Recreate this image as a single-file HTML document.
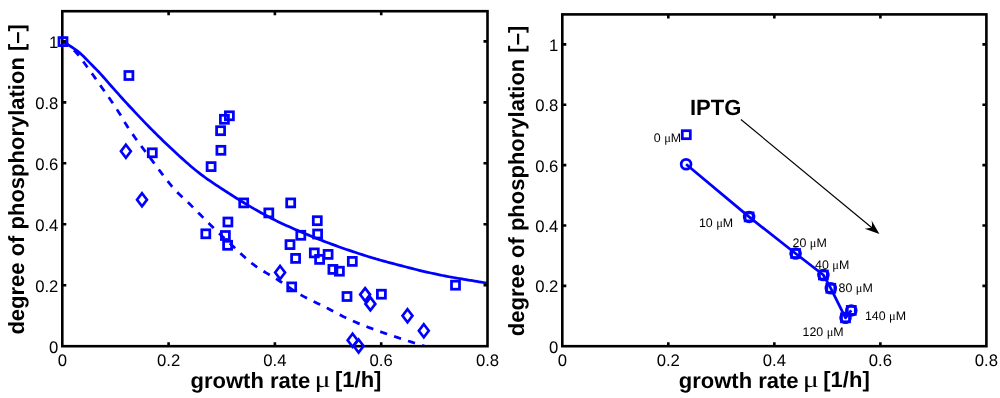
<!DOCTYPE html>
<html><head><meta charset="utf-8"><title>chart</title>
<style>html,body{margin:0;padding:0;background:#fff;width:1000px;height:398px;overflow:hidden}svg{will-change:transform;transform:translateZ(0);text-rendering:geometricPrecision}</style></head>
<body>
<svg width="1000" height="398" viewBox="0 0 1000 398" style="position:absolute;left:0;top:0;font-family:'Liberation Sans',sans-serif">
<clipPath id="cl"><rect x="62.3" y="11.2" width="425.2" height="335.0"/></clipPath>
<g clip-path="url(#cl)"><path d="M62.30,41.30 L64.44,42.52 L66.57,43.80 L68.71,45.13 L70.85,46.52 L72.98,47.94 L75.12,49.41 L77.26,50.96 L79.39,52.62 L81.53,54.45 L83.67,56.50 L85.80,58.68 L87.94,60.92 L90.08,63.13 L92.21,65.28 L94.35,67.43 L96.49,69.60 L98.62,71.82 L100.76,74.10 L102.90,76.47 L105.03,78.91 L107.17,81.38 L109.31,83.83 L111.44,86.24 L113.58,88.65 L115.72,91.06 L117.85,93.46 L119.99,95.84 L122.13,98.21 L124.26,100.56 L126.40,102.89 L128.54,105.20 L130.67,107.51 L132.81,109.81 L134.95,112.10 L137.08,114.37 L139.22,116.64 L141.36,118.88 L143.49,121.11 L145.63,123.33 L147.77,125.52 L149.90,127.70 L152.04,129.85 L154.18,132.00 L156.31,134.13 L158.45,136.25 L160.59,138.35 L162.72,140.44 L164.86,142.51 L167.00,144.56 L169.13,146.59 L171.27,148.60 L173.41,150.59 L175.54,152.55 L177.68,154.50 L179.82,156.44 L181.95,158.37 L184.09,160.29 L186.23,162.19 L188.36,164.07 L190.50,165.92 L192.64,167.74 L194.77,169.52 L196.91,171.26 L199.05,172.95 L201.18,174.59 L203.32,176.19 L205.46,177.74 L207.59,179.26 L209.73,180.74 L211.87,182.20 L214.00,183.63 L216.14,185.05 L218.28,186.45 L220.41,187.84 L222.55,189.23 L224.69,190.61 L226.82,192.00 L228.96,193.38 L231.10,194.76 L233.23,196.12 L235.37,197.48 L237.51,198.82 L239.64,200.15 L241.78,201.47 L243.92,202.78 L246.05,204.07 L248.19,205.34 L250.33,206.59 L252.46,207.84 L254.60,209.07 L256.74,210.30 L258.87,211.51 L261.01,212.72 L263.15,213.91 L265.28,215.08 L267.42,216.23 L269.56,217.37 L271.69,218.48 L273.83,219.57 L275.97,220.63 L278.11,221.67 L280.24,222.69 L282.38,223.69 L284.52,224.68 L286.65,225.64 L288.79,226.60 L290.93,227.55 L293.06,228.48 L295.20,229.41 L297.34,230.33 L299.47,231.25 L301.61,232.16 L303.75,233.07 L305.88,233.97 L308.02,234.86 L310.16,235.74 L312.29,236.62 L314.43,237.49 L316.57,238.35 L318.70,239.20 L320.84,240.04 L322.98,240.87 L325.11,241.69 L327.25,242.50 L329.39,243.30 L331.52,244.10 L333.66,244.88 L335.80,245.66 L337.93,246.43 L340.07,247.19 L342.21,247.95 L344.34,248.69 L346.48,249.43 L348.62,250.16 L350.75,250.89 L352.89,251.60 L355.03,252.32 L357.16,253.03 L359.30,253.73 L361.44,254.42 L363.57,255.11 L365.71,255.79 L367.85,256.46 L369.98,257.12 L372.12,257.77 L374.26,258.40 L376.39,259.03 L378.53,259.64 L380.67,260.25 L382.80,260.84 L384.94,261.42 L387.08,262.00 L389.21,262.57 L391.35,263.14 L393.49,263.70 L395.62,264.25 L397.76,264.81 L399.90,265.36 L402.03,265.92 L404.17,266.48 L406.31,267.04 L408.44,267.59 L410.58,268.14 L412.72,268.69 L414.85,269.24 L416.99,269.77 L419.13,270.30 L421.26,270.82 L423.40,271.32 L425.54,271.82 L427.67,272.30 L429.81,272.78 L431.95,273.25 L434.08,273.71 L436.22,274.16 L438.36,274.61 L440.49,275.05 L442.63,275.48 L444.77,275.91 L446.90,276.33 L449.04,276.73 L451.18,277.13 L453.31,277.52 L455.45,277.90 L457.59,278.27 L459.72,278.63 L461.86,278.98 L464.00,279.33 L466.13,279.68 L468.27,280.02 L470.41,280.37 L472.54,280.71 L474.68,281.06 L476.82,281.42 L478.95,281.78 L481.09,282.13 L483.23,282.49 L485.36,282.84 L487.50,283.20" fill="none" stroke="#0000ff" stroke-width="2.75"/>
<path d="M62.30,41.30 L64.12,42.35 L65.94,43.56 L67.76,44.90 L69.58,46.36 L71.40,47.93 L73.22,49.59 L75.04,51.34 L76.86,53.26 L78.68,55.42 L80.50,57.77 L82.32,60.24 L84.14,62.78 L85.96,65.32 L87.78,67.81 L89.60,70.27 L91.42,72.77 L93.24,75.30 L95.06,77.86 L96.88,80.43 L98.70,83.02 L100.52,85.62 L102.34,88.21 L104.16,90.79 L105.98,93.36 L107.80,95.95 L109.62,98.55 L111.44,101.18 L113.26,103.84 L115.08,106.55 L116.90,109.31 L118.72,112.13 L120.54,115.03 L122.36,118.16 L124.18,121.38 L126.00,124.35 L127.82,127.15 L129.64,129.87 L131.46,132.54 L133.28,135.14 L135.10,137.70 L136.92,140.21 L138.74,142.68 L140.56,145.13 L142.38,147.55 L144.20,149.96 L146.02,152.37 L147.84,154.77 L149.66,157.19 L151.48,159.62 L153.31,162.07 L155.13,164.53 L156.95,167.00 L158.77,169.46 L160.59,171.91 L162.41,174.34 L164.23,176.74 L166.05,179.10 L167.87,181.41 L169.69,183.66 L171.51,185.86 L173.33,187.97 L175.15,190.01 L176.97,191.94 L178.79,193.76 L180.61,195.51 L182.43,197.20 L184.25,198.87 L186.07,200.56 L187.89,202.30 L189.71,204.08 L191.53,205.89 L193.35,207.70 L195.17,209.53 L196.99,211.37 L198.81,213.21 L200.63,215.06 L202.45,216.90 L204.27,218.73 L206.09,220.55 L207.91,222.36 L209.73,224.15 L211.55,225.93 L213.37,227.69 L215.19,229.45 L217.01,231.19 L218.83,232.93 L220.65,234.67 L222.47,236.39 L224.29,238.11 L226.11,239.82 L227.93,241.52 L229.75,243.22 L231.57,244.91 L233.39,246.59 L235.21,248.28 L237.03,250.00 L238.85,251.73 L240.67,253.46 L242.49,255.17 L244.31,256.86 L246.13,258.51 L247.95,260.11 L249.77,261.64 L251.59,263.10 L253.41,264.48 L255.23,265.79 L257.05,267.06 L258.87,268.28 L260.69,269.46 L262.51,270.62 L264.33,271.74 L266.15,272.85 L267.97,273.94 L269.79,275.03 L271.61,276.11 L273.43,277.20 L275.25,278.30 L277.07,279.42 L278.89,280.56 L280.71,281.73 L282.53,282.93 L284.35,284.16 L286.17,285.40 L287.99,286.64 L289.81,287.89 L291.63,289.12 L293.45,290.34 L295.27,291.53 L297.09,292.68 L298.91,293.79 L300.73,294.85 L302.55,295.86 L304.37,296.84 L306.19,297.80 L308.01,298.72 L309.83,299.63 L311.65,300.53 L313.47,301.41 L315.29,302.28 L317.11,303.15 L318.93,304.03 L320.75,304.90 L322.57,305.79 L324.39,306.69 L326.21,307.61 L328.03,308.55 L329.85,309.50 L331.67,310.46 L333.49,311.42 L335.32,312.39 L337.14,313.35 L338.96,314.31 L340.78,315.26 L342.60,316.19 L344.42,317.11 L346.24,318.01 L348.06,318.88 L349.88,319.72 L351.70,320.53 L353.52,321.33 L355.34,322.10 L357.16,322.87 L358.98,323.62 L360.80,324.35 L362.62,325.08 L364.44,325.79 L366.26,326.50 L368.08,327.19 L369.90,327.88 L371.72,328.56 L373.54,329.24 L375.36,329.91 L377.18,330.58 L379.00,331.23 L380.82,331.88 L382.64,332.52 L384.46,333.15 L386.28,333.77 L388.10,334.39 L389.92,335.00 L391.74,335.61 L393.56,336.21 L395.38,336.81 L397.20,337.41 L399.02,338.01 L400.84,338.61 L402.66,339.21 L404.48,339.81 L406.30,340.40 L408.12,340.98 L409.94,341.56 L411.76,342.14 L413.58,342.71 L415.40,343.28 L417.22,343.83 L419.04,344.39 L420.86,344.93 L422.68,345.47 L424.50,346.00" fill="none" stroke="#0000ff" stroke-width="2.75" stroke-dasharray="7.3 7.35"/></g>
<rect x="62.3" y="11.2" width="425.20" height="335.00" fill="none" stroke="#000" stroke-width="2.6"/>
<path d="M168.60,346.2 v-4.0 M168.60,11.2 v4.0" stroke="#000" stroke-width="2.6"/>
<path d="M274.90,346.2 v-4.0 M274.90,11.2 v4.0" stroke="#000" stroke-width="2.6"/>
<path d="M381.20,346.2 v-4.0 M381.20,11.2 v4.0" stroke="#000" stroke-width="2.6"/>
<path d="M62.3,285.24 h4.0 M487.5,285.24 h-4.0" stroke="#000" stroke-width="2.6"/>
<path d="M62.3,224.28 h4.0 M487.5,224.28 h-4.0" stroke="#000" stroke-width="2.6"/>
<path d="M62.3,163.32 h4.0 M487.5,163.32 h-4.0" stroke="#000" stroke-width="2.6"/>
<path d="M62.3,102.36 h4.0 M487.5,102.36 h-4.0" stroke="#000" stroke-width="2.6"/>
<path d="M62.3,41.40 h4.0 M487.5,41.40 h-4.0" stroke="#000" stroke-width="2.6"/>
<rect x="59.00" y="37.60" width="8.0" height="8.0" fill="none" stroke="#0000ff" stroke-width="2.75"/>
<rect x="124.90" y="71.50" width="8.0" height="8.0" fill="none" stroke="#0000ff" stroke-width="2.75"/>
<rect x="225.40" y="111.80" width="8.0" height="8.0" fill="none" stroke="#0000ff" stroke-width="2.75"/>
<rect x="220.40" y="115.30" width="8.0" height="8.0" fill="none" stroke="#0000ff" stroke-width="2.75"/>
<rect x="216.60" y="126.70" width="8.0" height="8.0" fill="none" stroke="#0000ff" stroke-width="2.75"/>
<rect x="216.90" y="146.30" width="8.0" height="8.0" fill="none" stroke="#0000ff" stroke-width="2.75"/>
<rect x="207.10" y="162.60" width="8.0" height="8.0" fill="none" stroke="#0000ff" stroke-width="2.75"/>
<rect x="148.30" y="148.80" width="8.0" height="8.0" fill="none" stroke="#0000ff" stroke-width="2.75"/>
<rect x="239.70" y="198.90" width="8.0" height="8.0" fill="none" stroke="#0000ff" stroke-width="2.75"/>
<rect x="286.70" y="198.90" width="8.0" height="8.0" fill="none" stroke="#0000ff" stroke-width="2.75"/>
<rect x="264.80" y="208.90" width="8.0" height="8.0" fill="none" stroke="#0000ff" stroke-width="2.75"/>
<rect x="223.90" y="218.00" width="8.0" height="8.0" fill="none" stroke="#0000ff" stroke-width="2.75"/>
<rect x="201.80" y="229.80" width="8.0" height="8.0" fill="none" stroke="#0000ff" stroke-width="2.75"/>
<rect x="221.40" y="231.50" width="8.0" height="8.0" fill="none" stroke="#0000ff" stroke-width="2.75"/>
<rect x="223.60" y="241.30" width="8.0" height="8.0" fill="none" stroke="#0000ff" stroke-width="2.75"/>
<rect x="286.00" y="240.60" width="8.0" height="8.0" fill="none" stroke="#0000ff" stroke-width="2.75"/>
<rect x="291.60" y="254.40" width="8.0" height="8.0" fill="none" stroke="#0000ff" stroke-width="2.75"/>
<rect x="313.30" y="216.70" width="8.0" height="8.0" fill="none" stroke="#0000ff" stroke-width="2.75"/>
<rect x="313.60" y="230.00" width="8.0" height="8.0" fill="none" stroke="#0000ff" stroke-width="2.75"/>
<rect x="296.80" y="231.30" width="8.0" height="8.0" fill="none" stroke="#0000ff" stroke-width="2.75"/>
<rect x="310.30" y="248.90" width="8.0" height="8.0" fill="none" stroke="#0000ff" stroke-width="2.75"/>
<rect x="315.60" y="255.40" width="8.0" height="8.0" fill="none" stroke="#0000ff" stroke-width="2.75"/>
<rect x="324.10" y="250.40" width="8.0" height="8.0" fill="none" stroke="#0000ff" stroke-width="2.75"/>
<rect x="328.90" y="265.40" width="8.0" height="8.0" fill="none" stroke="#0000ff" stroke-width="2.75"/>
<rect x="335.40" y="267.20" width="8.0" height="8.0" fill="none" stroke="#0000ff" stroke-width="2.75"/>
<rect x="348.30" y="257.40" width="8.0" height="8.0" fill="none" stroke="#0000ff" stroke-width="2.75"/>
<rect x="287.70" y="282.90" width="8.0" height="8.0" fill="none" stroke="#0000ff" stroke-width="2.75"/>
<rect x="343.00" y="292.50" width="8.0" height="8.0" fill="none" stroke="#0000ff" stroke-width="2.75"/>
<rect x="377.40" y="290.20" width="8.0" height="8.0" fill="none" stroke="#0000ff" stroke-width="2.75"/>
<rect x="451.50" y="281.20" width="8.0" height="8.0" fill="none" stroke="#0000ff" stroke-width="2.75"/>
<path d="M125.90,144.80 L130.85,151.30 L125.90,157.80 L120.95,151.30 Z" fill="none" stroke="#0000ff" stroke-width="2.65" stroke-linejoin="miter"/>
<path d="M142.00,193.30 L146.95,199.80 L142.00,206.30 L137.05,199.80 Z" fill="none" stroke="#0000ff" stroke-width="2.65" stroke-linejoin="miter"/>
<path d="M280.10,266.00 L285.05,272.50 L280.10,279.00 L275.15,272.50 Z" fill="none" stroke="#0000ff" stroke-width="2.65" stroke-linejoin="miter"/>
<path d="M365.10,288.10 L370.05,294.60 L365.10,301.10 L360.15,294.60 Z" fill="none" stroke="#0000ff" stroke-width="2.65" stroke-linejoin="miter"/>
<path d="M370.40,297.40 L375.35,303.90 L370.40,310.40 L365.45,303.90 Z" fill="none" stroke="#0000ff" stroke-width="2.65" stroke-linejoin="miter"/>
<path d="M407.50,309.20 L412.45,315.70 L407.50,322.20 L402.55,315.70 Z" fill="none" stroke="#0000ff" stroke-width="2.65" stroke-linejoin="miter"/>
<path d="M423.80,324.30 L428.75,330.80 L423.80,337.30 L418.85,330.80 Z" fill="none" stroke="#0000ff" stroke-width="2.65" stroke-linejoin="miter"/>
<path d="M352.60,333.80 L357.55,340.30 L352.60,346.80 L347.65,340.30 Z" fill="none" stroke="#0000ff" stroke-width="2.65" stroke-linejoin="miter"/>
<path d="M358.60,339.50 L363.55,346.00 L358.60,352.50 L353.65,346.00 Z" fill="none" stroke="#0000ff" stroke-width="2.65" stroke-linejoin="miter"/>
<text x="62.30" y="366.0" font-size="16.7" text-anchor="middle">0</text>
<text x="562.30" y="366.0" font-size="16.7" text-anchor="middle">0</text>
<text x="168.60" y="366.0" font-size="16.7" text-anchor="middle">0.2</text>
<text x="668.32" y="366.0" font-size="16.7" text-anchor="middle">0.2</text>
<text x="274.90" y="366.0" font-size="16.7" text-anchor="middle">0.4</text>
<text x="774.35" y="366.0" font-size="16.7" text-anchor="middle">0.4</text>
<text x="381.20" y="366.0" font-size="16.7" text-anchor="middle">0.6</text>
<text x="880.38" y="366.0" font-size="16.7" text-anchor="middle">0.6</text>
<text x="487.50" y="366.0" font-size="16.7" text-anchor="middle">0.8</text>
<text x="986.40" y="366.0" font-size="16.7" text-anchor="middle">0.8</text>
<text x="58.4" y="352.60" font-size="16.7" text-anchor="end">0</text>
<text x="558.4" y="352.60" font-size="16.7" text-anchor="end">0</text>
<text x="58.4" y="291.64" font-size="16.7" text-anchor="end">0.2</text>
<text x="558.4" y="292.24" font-size="16.7" text-anchor="end">0.2</text>
<text x="58.4" y="230.68" font-size="16.7" text-anchor="end">0.4</text>
<text x="558.4" y="231.88" font-size="16.7" text-anchor="end">0.4</text>
<text x="58.4" y="169.72" font-size="16.7" text-anchor="end">0.6</text>
<text x="558.4" y="171.52" font-size="16.7" text-anchor="end">0.6</text>
<text x="58.4" y="108.76" font-size="16.7" text-anchor="end">0.8</text>
<text x="558.4" y="111.16" font-size="16.7" text-anchor="end">0.8</text>
<text x="58.4" y="47.80" font-size="16.7" text-anchor="end">1</text>
<text x="558.4" y="50.80" font-size="16.7" text-anchor="end">1</text>
<text x="190.50" y="387.7" font-size="22" font-weight="bold">growth rate</text><text transform="translate(314.50,386.50) scale(1.28,1)" font-family="'Liberation Serif',serif" font-size="23.5">μ</text><text x="335.00" y="386.80" font-size="22" font-weight="bold">[1/h]</text>
<text x="678.80" y="387.7" font-size="22" font-weight="bold">growth rate</text><text transform="translate(802.80,386.50) scale(1.28,1)" font-family="'Liberation Serif',serif" font-size="23.5">μ</text><text x="823.30" y="386.80" font-size="22" font-weight="bold">[1/h]</text>
<text transform="translate(23.9,334.6) rotate(-90)" font-size="22" font-weight="bold">degree of phosphorylation [–]</text>
<text transform="translate(523.9,336.2) rotate(-90)" font-size="22" font-weight="bold">degree of phosphorylation [–]</text>
<rect x="562.3" y="14.4" width="424.10" height="331.80" fill="none" stroke="#000" stroke-width="2.6"/>
<path d="M668.32,346.2 v-4.0 M668.32,14.4 v4.0" stroke="#000" stroke-width="2.6"/>
<path d="M774.35,346.2 v-4.0 M774.35,14.4 v4.0" stroke="#000" stroke-width="2.6"/>
<path d="M880.38,346.2 v-4.0 M880.38,14.4 v4.0" stroke="#000" stroke-width="2.6"/>
<path d="M562.3,285.84 h4.0 M986.4,285.84 h-4.0" stroke="#000" stroke-width="2.6"/>
<path d="M562.3,225.48 h4.0 M986.4,225.48 h-4.0" stroke="#000" stroke-width="2.6"/>
<path d="M562.3,165.12 h4.0 M986.4,165.12 h-4.0" stroke="#000" stroke-width="2.6"/>
<path d="M562.3,104.76 h4.0 M986.4,104.76 h-4.0" stroke="#000" stroke-width="2.6"/>
<path d="M562.3,44.40 h4.0 M986.4,44.40 h-4.0" stroke="#000" stroke-width="2.6"/>
<path d="M686.1,164.3 L749.1,216.9 L795.6,253.5 L823.4,275 L830.8,288.3 L845.5,317.8 L851.3,310.4" fill="none" stroke="#0000ff" stroke-width="2.75" stroke-linejoin="round"/>
<circle cx="686.10" cy="164.30" r="4.9" fill="none" stroke="#0000ff" stroke-width="2.75"/>
<circle cx="749.10" cy="216.90" r="4.9" fill="none" stroke="#0000ff" stroke-width="2.75"/>
<circle cx="795.60" cy="253.50" r="4.9" fill="none" stroke="#0000ff" stroke-width="2.75"/>
<circle cx="823.40" cy="275.00" r="4.9" fill="none" stroke="#0000ff" stroke-width="2.75"/>
<circle cx="830.80" cy="288.30" r="4.9" fill="none" stroke="#0000ff" stroke-width="2.75"/>
<circle cx="845.50" cy="317.80" r="4.9" fill="none" stroke="#0000ff" stroke-width="2.75"/>
<circle cx="851.30" cy="310.40" r="4.9" fill="none" stroke="#0000ff" stroke-width="2.75"/>
<rect x="682.30" y="130.70" width="8.0" height="8.0" fill="none" stroke="#0000ff" stroke-width="2.75"/>
<rect x="745.10" y="212.90" width="8.0" height="8.0" fill="none" stroke="#0000ff" stroke-width="2.75"/>
<rect x="791.60" y="249.50" width="8.0" height="8.0" fill="none" stroke="#0000ff" stroke-width="2.75"/>
<rect x="819.40" y="271.00" width="8.0" height="8.0" fill="none" stroke="#0000ff" stroke-width="2.75"/>
<rect x="826.80" y="284.30" width="8.0" height="8.0" fill="none" stroke="#0000ff" stroke-width="2.75"/>
<rect x="841.50" y="313.80" width="8.0" height="8.0" fill="none" stroke="#0000ff" stroke-width="2.75"/>
<rect x="847.30" y="306.40" width="8.0" height="8.0" fill="none" stroke="#0000ff" stroke-width="2.75"/>
<text x="653.8" y="141.8" font-size="12.4">0 <tspan font-family="'Liberation Serif',serif">μ</tspan>M</text>
<text x="698.9" y="227.3" font-size="12.4">10 <tspan font-family="'Liberation Serif',serif">μ</tspan>M</text>
<text x="792.6" y="247.1" font-size="12.4">20 <tspan font-family="'Liberation Serif',serif">μ</tspan>M</text>
<text x="815" y="269.1" font-size="12.4">40 <tspan font-family="'Liberation Serif',serif">μ</tspan>M</text>
<text x="838.5" y="292.3" font-size="12.4">80 <tspan font-family="'Liberation Serif',serif">μ</tspan>M</text>
<text x="864.9" y="319.8" font-size="12.4">140 <tspan font-family="'Liberation Serif',serif">μ</tspan>M</text>
<text x="802.5" y="336.3" font-size="12.4">120 <tspan font-family="'Liberation Serif',serif">μ</tspan>M</text>
<text x="690.0" y="115.3" font-size="22" font-weight="bold">IPTG</text>
<path d="M740.9,119.5 L872.5,228.2" stroke="#000" stroke-width="1.15" fill="none"/>
<path d="M879.4,233.9 L871.6,220.4 Q872.6,224.5 871.7,227.5 Q868.5,228.6 864.7,228.7 Z" fill="#000"/>
</svg>
</body></html>
